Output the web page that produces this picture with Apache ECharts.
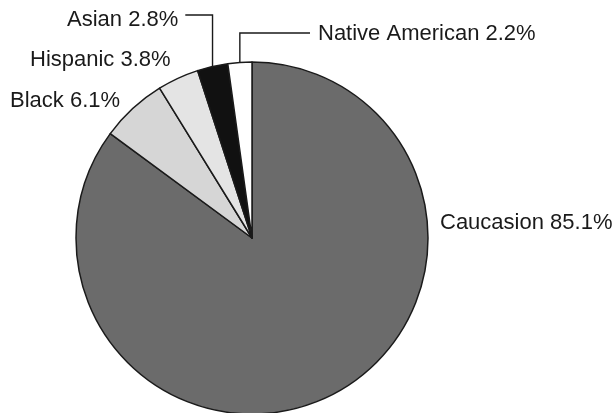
<!DOCTYPE html>
<html>
<head>
<meta charset="utf-8">
<script src="https://cdn.jsdelivr.net/npm/echarts@6/dist/echarts.min.js"></script>
<style>
  html, body { margin: 0; padding: 0; background: #fff; }
  #chart { width: 614px; height: 413px; }
</style>
</head>
<body>
<div id="chart"></div>
<script>
// Ethnic composition, percent of total
const groups = ['Caucasion', 'Black', 'Hispanic', 'Asian', 'Native American'];
const shares = [85.1, 6.1, 3.8, 2.8, 2.2];

// Slice fills
const fills = ['#6b6b6b', '#d6d6d6', '#e4e4e4', '#111111', '#ffffff'];

// Where each label's text sits (left edge, vertical middle), and whether it gets a leader line
const labelSpots = [
  { x: 440, y: 223, leader: false },
  { x: 10,  y: 101, leader: false },
  { x: 30,  y: 60,  leader: false },
  { x: 67,  y: 20,  leader: true, elbowY: 15, side: 'left' },
  { x: 318, y: 34,  leader: true, elbowY: 33, side: 'right' }
];

const chart = echarts.init(document.getElementById('chart'), null, { renderer: 'canvas' });

const data = groups.map((name, i) => ({
  name: name,
  value: shares[i],
  itemStyle: { color: fills[i] },
  labelLine: { show: labelSpots[i].leader }
}));

chart.setOption({
  animation: false,
  backgroundColor: '#ffffff',
  series: [{
    type: 'pie',
    center: [252, 238],
    radius: [0, 176],
    startAngle: 90,
    clockwise: true,
    avoidLabelOverlap: false,
    data: data,
    itemStyle: { borderColor: '#1a1a1a', borderWidth: 1.5 },
    label: {
      show: true,
      position: 'outside',
      formatter: (p) => p.name + ' ' + p.value.toFixed(1) + '%',
      fontFamily: 'Liberation Sans, Arial, sans-serif',
      fontSize: 22,
      color: '#1a1a1a'
    },
    labelLine: {
      show: true,
      length: 10,
      length2: 10,
      smooth: false,
      lineStyle: { color: '#1a1a1a', width: 1.4 }
    },
    emphasis: { disabled: true },
    labelLayout: function (params) {
      const spot = labelSpots[params.dataIndex];
      const out = { x: spot.x, y: spot.y, align: 'left', verticalAlign: 'middle' };
      if (spot.leader && params.labelLinePoints) {
        const start = params.labelLinePoints[0];
        const w = params.labelRect.width;
        const endX = spot.side === 'left' ? spot.x + w + 7 : spot.x - 8;
        out.labelLinePoints = [
          [start[0], start[1] + 4],
          [start[0], spot.elbowY],
          [endX, spot.elbowY]
        ];
      }
      return out;
    }
  }]
});
</script>
</body>
</html>
